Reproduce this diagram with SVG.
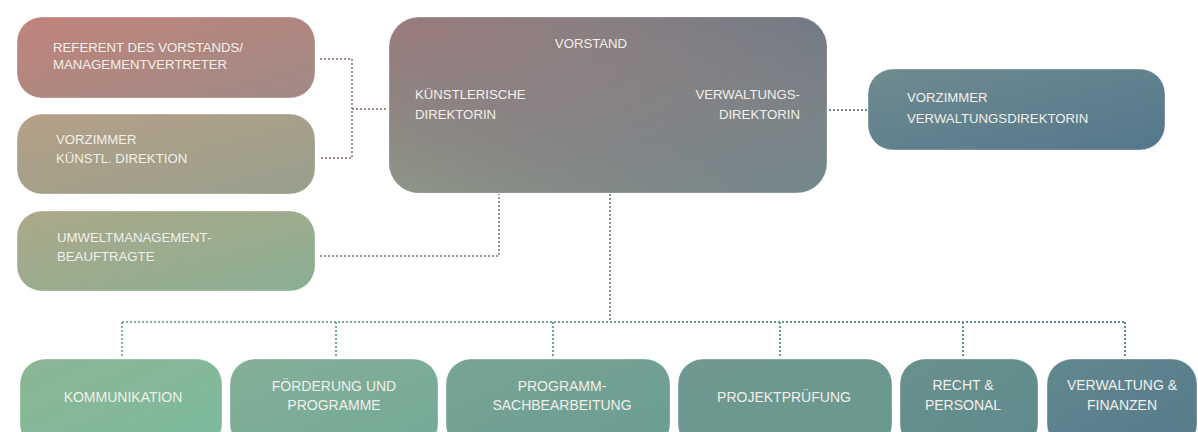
<svg xmlns="http://www.w3.org/2000/svg" width="1198" height="432" viewBox="0 0 1198 432">
  <defs>
    <linearGradient id="g-ref" x1="0" y1="0" x2="1" y2="1"><stop offset="0" stop-color="#c0847b"/><stop offset="1" stop-color="#a08a86"/></linearGradient>
    <linearGradient id="g-vk" x1="0" y1="0" x2="1" y2="1"><stop offset="0" stop-color="#b5a087"/><stop offset="1" stop-color="#989f8e"/></linearGradient>
    <linearGradient id="g-um" x1="0" y1="0" x2="1" y2="1"><stop offset="0" stop-color="#aca889"/><stop offset="1" stop-color="#8baf94"/></linearGradient>
    <linearGradient id="g-vs" x1="0" y1="0" x2="1" y2="1"><stop offset="0" stop-color="#9a7b7c"/><stop offset="1" stop-color="#72888c"/></linearGradient>
    <linearGradient id="g-vs2" x1="1" y1="0" x2="0" y2="1"><stop offset="0" stop-color="#687687" stop-opacity="0.7"/><stop offset="0.5" stop-color="#868484" stop-opacity="0"/><stop offset="1" stop-color="#93a088" stop-opacity="0.7"/></linearGradient>
    <linearGradient id="g-vv" x1="0" y1="0" x2="1" y2="1"><stop offset="0" stop-color="#6f8b8f"/><stop offset="1" stop-color="#54778c"/></linearGradient>
    <linearGradient id="g-ko" x1="0" y1="0" x2="1" y2="1"><stop offset="0" stop-color="#8bb693"/><stop offset="1" stop-color="#7bbb9e"/></linearGradient>
    <linearGradient id="g-fo" x1="0" y1="0" x2="1" y2="1"><stop offset="0" stop-color="#84ae97"/><stop offset="1" stop-color="#72ab97"/></linearGradient>
    <linearGradient id="g-pr" x1="0" y1="0" x2="1" y2="1"><stop offset="0" stop-color="#78a494"/><stop offset="1" stop-color="#6a9d93"/></linearGradient>
    <linearGradient id="g-pj" x1="0" y1="0" x2="1" y2="1"><stop offset="0" stop-color="#6f9890"/><stop offset="1" stop-color="#6a988f"/></linearGradient>
    <linearGradient id="g-re" x1="0" y1="0" x2="1" y2="1"><stop offset="0" stop-color="#67908d"/><stop offset="1" stop-color="#618a8e"/></linearGradient>
    <linearGradient id="g-vf" x1="0" y1="0" x2="1" y2="1"><stop offset="0" stop-color="#62888f"/><stop offset="1" stop-color="#567a8a"/></linearGradient>
    <linearGradient id="g-line" gradientUnits="userSpaceOnUse" x1="100" y1="0" x2="1140" y2="0"><stop offset="0" stop-color="#80b496"/><stop offset="1" stop-color="#5f8690"/></linearGradient>
  </defs>
  <style>
    .box { stroke: rgba(255,255,255,0.35); stroke-width: 1; }
    .t { font-family: "Liberation Sans", Arial, sans-serif; font-size: 13.2px; fill: #f1efe9; }
    .tb { font-family: "Liberation Sans", Arial, sans-serif; font-size: 14px; fill: #f1efe9; text-anchor: middle; }
    .c { fill: none; stroke-width: 2; stroke-dasharray: 2 2; }
  </style>
  <rect width="1198" height="432" fill="#ffffff"/>

  <g id="connectors">
    <path class="c" stroke="#a08b86" d="M320 59 H352 V158 H320 M352 109 H388"/>
    <path class="c" stroke="#8f9d90" d="M320 256 H499 V194"/>
    <path class="c" stroke="#7b868a" d="M829 110 H867"/>
    <path class="c" stroke="#7f9c91" d="M610 194 V322"/>
    <path class="c" stroke="url(#g-line)" d="M122 322 H1125 M122 322 V357 M336 322 V357 M553 322 V357 M780 322 V357 M963 322 V357 M1125 322 V357"/>
  </g>

  <g id="referent">
    <rect class="box" x="17" y="17" width="298" height="81" rx="25" fill="url(#g-ref)"/>
    <text class="t" x="53" y="52">REFERENT DES VORSTANDS/</text>
    <text class="t" x="53" y="69">MANAGEMENTVERTRETER</text>
  </g>
  <g id="vorzimmer-kuenstl">
    <rect class="box" x="17" y="114" width="298" height="80" rx="25" fill="url(#g-vk)"/>
    <text class="t" x="56" y="144">VORZIMMER</text>
    <text class="t" x="56" y="163">KÜNSTL. DIREKTION</text>
  </g>
  <g id="umwelt">
    <rect class="box" x="17" y="211" width="298" height="80" rx="25" fill="url(#g-um)"/>
    <text class="t" x="57" y="242">UMWELTMANAGEMENT-</text>
    <text class="t" x="57" y="261">BEAUFTRAGTE</text>
  </g>
  <g id="vorstand">
    <rect class="box" x="389" y="17" width="438" height="176" rx="30" fill="url(#g-vs)"/>
    <rect x="389" y="17" width="438" height="176" rx="30" fill="url(#g-vs2)"/>
    <text class="t" x="591" y="48" text-anchor="middle" font-size="14.5">VORSTAND</text>
    <text class="t" x="415" y="99">KÜNSTLERISCHE</text>
    <text class="t" x="415" y="119">DIREKTORIN</text>
    <text class="t" x="800" y="99" text-anchor="end">VERWALTUNGS-</text>
    <text class="t" x="800" y="119" text-anchor="end">DIREKTORIN</text>
  </g>
  <g id="vorzimmer-verw">
    <rect class="box" x="868" y="69" width="297" height="81" rx="25" fill="url(#g-vv)"/>
    <text class="t" x="907" y="102">VORZIMMER</text>
    <text class="t" x="907" y="123">VERWALTUNGSDIREKTORIN</text>
  </g>

  <g id="kommunikation">
    <rect class="box" x="20" y="359" width="202" height="90" rx="25" fill="url(#g-ko)"/>
    <text class="tb" x="123" y="402">KOMMUNIKATION</text>
  </g>
  <g id="foerderung">
    <rect class="box" x="230" y="359" width="208" height="90" rx="25" fill="url(#g-fo)"/>
    <text class="tb" x="334" y="391">FÖRDERUNG UND</text>
    <text class="tb" x="334" y="410">PROGRAMME</text>
  </g>
  <g id="programm">
    <rect class="box" x="446" y="359" width="224" height="90" rx="25" fill="url(#g-pr)"/>
    <text class="tb" x="562" y="391">PROGRAMM-</text>
    <text class="tb" x="562" y="410">SACHBEARBEITUNG</text>
  </g>
  <g id="projekt">
    <rect class="box" x="678" y="359" width="214" height="90" rx="25" fill="url(#g-pj)"/>
    <text class="tb" x="784" y="402">PROJEKTPRÜFUNG</text>
  </g>
  <g id="recht">
    <rect class="box" x="900" y="359" width="138" height="90" rx="25" fill="url(#g-re)"/>
    <text class="tb" x="963" y="390">RECHT &amp;</text>
    <text class="tb" x="963" y="410">PERSONAL</text>
  </g>
  <g id="verwaltung">
    <rect class="box" x="1047" y="359" width="150" height="90" rx="25" fill="url(#g-vf)"/>
    <text class="tb" x="1122" y="390">VERWALTUNG &amp;</text>
    <text class="tb" x="1122" y="410">FINANZEN</text>
  </g>
</svg>
